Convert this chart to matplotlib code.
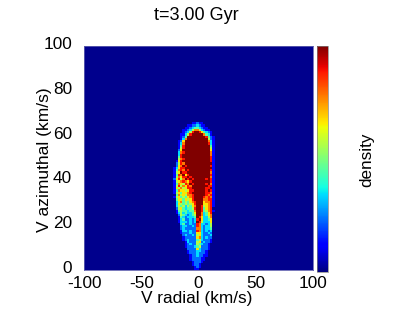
import numpy as np
import matplotlib
matplotlib.use("Agg")
import matplotlib.pyplot as plt
from matplotlib.transforms import ScaledTranslation

plt.rcParams['font.family'] = ['Liberation Sans', 'DejaVu Sans']
plt.rcParams['axes.unicode_minus'] = False

# density on a 0-9 scale, one string per row,
# top row is v_az 65-66, bottom row is v_az 0-1, columns start at v_r = -22
v_radial_edges = np.arange(-22, 17, 2)
v_azim_edges = np.arange(66, -1, -1)
density_rows = [
    "0000000011211000000",
    "0000001122321100000",
    "0000011234432110000",
    "0000112357753211000",
    "0000123589986432100",
    "0001135899999743100",
    "0001249999999984210",
    "0001379999999995210",
    "0012699999999997310",
    "0013799999999998310",
    "0014899999999999410",
    "0015899999999999510",
    "0026999999999999610",
    "0037899999999999710",
    "0038999999999999710",
    "0048999999999999810",
    "0057899999999999810",
    "0168999999999999810",
    "0258799999999999910",
    "0267989999999999810",
    "1368899999999999910",
    "1478798999999999810",
    "1569889999999999710",
    "1487968999999999810",
    "1576889899999999710",
    "2685798989999989810",
    "1567876899999999810",
    "1476587989999989710",
    "1585768799999998810",
    "1657568899999988910",
    "1476656889999989810",
    "1564667899999988710",
    "0475657789999987810",
    "1564546789999878710",
    "0466465689999778810",
    "0357454678999677810",
    "0365454568999667810",
    "0354535467998567810",
    "0256434458998467800",
    "0145443447998457810",
    "0135343346997346800",
    "0025432345997346700",
    "0014323334986335700",
    "0013422323896334600",
    "0013332323985333600",
    "0003422322873323500",
    "0002332232873233500",
    "0002322222773233400",
    "0001332322873232300",
    "0001222322663223200",
    "0000232232563222300",
    "0000122222673232200",
    "0000123222453222100",
    "0000013222562322100",
    "0000012322543221000",
    "0000012223452221000",
    "0000002222632221000",
    "0000001222332210000",
    "0000001222322210000",
    "0000000122322110000",
    "0000000122221100000",
    "0000000122221100000",
    "0000000012221000000",
    "0000000012210000000",
    "0000000001210000000",
    "0000000001100000000",
]
density = np.array([[int(c) for c in row] for row in density_rows])

x_ticks = [-100, -50, 0, 50, 100]
y_ticks = [0, 20, 40, 60, 80, 100]

fig = plt.figure(figsize=(4.15, 3.12), dpi=100)
ax = fig.add_axes([84 / 415, 1 - 270 / 312, 229 / 415, 224 / 312])

# vmin slightly below 0 so the empty cells get the dark blue of the reference
mesh = ax.pcolormesh(v_radial_edges, v_azim_edges, density, cmap='jet', vmin=-0.125, vmax=9)
ax.set_facecolor(mesh.cmap(mesh.norm(0)))
ax.set_xlim(-100, 100)
ax.set_ylim(0, 100)
ax.set_xticks(x_ticks)
ax.set_yticks(y_ticks)
ax.tick_params(labelsize=12.4, length=0)
ax.tick_params(axis='x', pad=4)
ax.tick_params(axis='y', pad=8.7)
for lab in ax.get_yticklabels():
    lab.set_transform(lab.get_transform() + ScaledTranslation(0, 3 / 72 * 0.72, fig.dpi_scale_trans))
for s in ax.spines.values():
    s.set_linewidth(0.6)
    s.set_color('#6060b0')

fig.text(197 / 415, 1 - 299 / 312, 'V radial (km/s)', fontsize=12.4, ha='center', va='center')
fig.text(44 / 415, 1 - 160 / 312, 'V azimuthal (km/s)', fontsize=12.5, rotation=90, ha='center', va='center')
fig.text(196 / 415, 1 - 15 / 312, 't=3.00 Gyr', fontsize=13, ha='center', va='center')

# colorbar
cax = fig.add_axes([317 / 415, 1 - 272 / 312, 11 / 415, 226 / 312])
cb = fig.colorbar(mesh, cax=cax)
cb.set_ticks([])
cb.outline.set_linewidth(0.5)
cb.outline.set_edgecolor('#808080')
fig.text(367 / 415, 1 - 160 / 312, 'density', fontsize=12.3, rotation=90, ha='center', va='center')

fig.savefig('out.png', dpi=100)
